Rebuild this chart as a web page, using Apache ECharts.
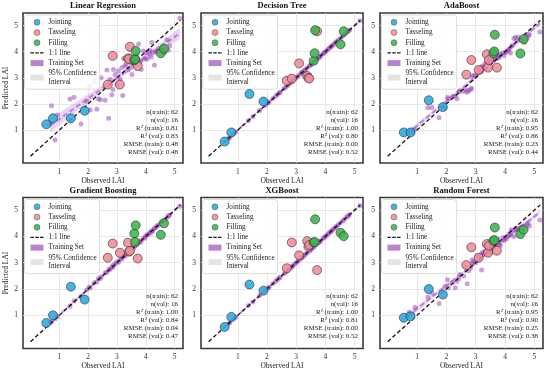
<!DOCTYPE html>
<html><head><meta charset="utf-8">
<script src="https://cdn.jsdelivr.net/npm/echarts@6/dist/echarts.min.js"></script>
<style>html,body{margin:0;padding:0;background:#fff}#c{width:550px;height:373px}</style>
</head><body><div id="c"></div>
<script>
// ---------- DATA ----------
const models = ['Linear Regression','Decision Tree','AdaBoost','Gradient Boosting','XGBoost','Random Forest'];
const tickValues = [1, 2, 3, 4, 5];

const trainObs = [0.68,0.73,0.85,0.93,1.37,1.51,1.75,1.95,2.04,2.07,2.21,2.30,2.36,2.42,2.45,2.59,2.65,2.71,2.76,2.82,2.86,2.88,2.94,3.00,3.05,3.11,3.17,3.20,3.23,3.28,3.32,3.38,3.46,3.50,3.52,3.58,3.62,3.69,3.75,3.78,3.81,3.84,3.92,3.96,4.00,4.04,4.10,4.14,4.18,4.21,4.25,4.30,4.35,4.39,4.45,4.53,4.60,4.66,4.74,4.78,4.83,5.18];
const trainPredLR = [1.26,1.93,0.62,1.58,2.19,2.26,1.23,2.10,2.68,1.77,2.87,1.80,2.20,2.16,3.00,2.14,3.30,1.45,2.94,2.35,2.55,3.32,3.13,2.74,3.26,2.94,3.39,2.32,3.74,3.45,3.52,3.30,3.84,3.55,3.13,3.58,3.48,3.90,4.29,3.60,3.65,3.32,4.03,3.75,3.95,3.71,3.99,4.05,3.80,4.35,3.98,3.48,4.00,4.03,4.10,3.99,4.15,3.98,4.46,4.05,4.23,5.28];
const trainPredDT = [0.68,0.73,0.85,0.93,1.37,1.51,1.75,1.95,2.04,2.07,2.21,2.30,2.36,2.42,2.45,2.59,2.65,2.71,2.76,2.82,2.86,2.88,2.94,3.00,3.05,3.11,3.17,3.20,3.23,3.28,3.32,3.38,3.46,3.50,3.52,3.58,3.62,3.69,3.75,3.78,3.81,3.84,3.92,3.96,4.00,4.04,4.10,4.14,4.18,4.21,4.25,4.30,4.35,4.39,4.45,4.53,4.60,4.66,4.74,4.78,4.83,5.18];
const trainPredAda = [0.92,0.95,0.98,1.02,1.85,1.86,1.47,1.85,2.25,2.20,2.28,2.30,2.20,2.45,2.50,2.48,2.55,2.45,2.50,2.55,2.60,3.05,3.10,3.10,3.35,3.20,3.40,3.25,3.45,3.40,3.55,3.60,3.62,3.70,3.60,3.65,3.70,3.80,3.75,3.85,3.80,3.90,3.95,3.85,3.97,4.00,4.05,4.10,3.95,4.20,4.25,4.50,4.55,4.40,4.55,4.45,4.50,4.35,4.50,4.60,4.65,4.75];
const trainPredGB = [0.72,0.76,0.86,0.95,1.35,1.55,1.72,1.97,2.08,2.04,2.24,2.27,2.40,2.40,2.47,2.62,2.63,2.74,2.74,2.85,2.83,2.91,2.96,3.04,3.02,3.13,3.14,3.23,3.25,3.26,3.35,3.36,3.48,3.47,3.55,3.56,3.64,3.67,3.77,3.76,3.84,3.82,3.94,3.93,4.02,4.06,4.08,4.16,4.15,4.23,4.22,4.32,4.33,4.41,4.43,4.55,4.58,4.64,4.72,4.79,4.81,5.15];
const trainPredXGB = [0.68,0.73,0.86,0.93,1.37,1.51,1.75,1.95,2.04,2.07,2.21,2.30,2.36,2.42,2.45,2.59,2.65,2.71,2.76,2.82,2.86,2.88,2.94,3.00,3.05,3.11,3.17,3.20,3.23,3.28,3.32,3.38,3.46,3.50,3.52,3.58,3.62,3.69,3.75,3.78,3.81,3.84,3.92,3.96,4.00,4.04,4.10,4.14,4.18,4.21,4.25,4.30,4.35,4.39,4.45,4.53,4.60,4.66,4.74,4.78,4.83,5.17];
const trainPredRF = [1.00,1.12,1.05,1.30,1.70,1.85,1.45,2.10,2.35,2.05,2.25,2.05,2.30,2.40,2.55,2.50,2.85,2.20,2.70,2.80,2.95,3.10,3.05,3.00,3.25,3.15,3.30,2.72,3.40,3.35,3.45,3.40,3.65,3.55,3.40,3.60,3.55,3.80,3.90,3.75,3.70,3.65,3.95,3.85,3.95,3.90,4.00,4.10,4.05,4.25,4.20,4.00,4.30,4.25,4.30,4.35,4.40,4.30,4.45,4.50,4.40,4.62];

const jointObs = [0.55,0.78,1.40,1.88];
const tassObs  = [2.68,2.85,3.10,3.38,3.42,3.45,3.72];
const fillObs  = [3.60,3.63,3.65,4.52,4.63];

const jointLR = [1.22,1.45,1.45,1.74];
const tassLR  = [2.74,3.84,2.74,3.74,3.72,4.19,3.45];
const fillLR  = [3.68,3.71,4.03,3.94,4.12];
const jointDT = [0.56,0.91,2.38,2.09];
const tassDT  = [2.89,2.97,3.55,3.07,3.00,2.97,4.78];
const fillDT  = [3.65,3.94,4.82,4.28,4.78];
const jointAda = [0.91,0.91,2.14,1.88];
const tassAda  = [3.12,3.68,3.30,3.90,3.39,3.68,3.39];
const fillAda  = [3.94,4.01,4.65,3.93,4.48];
const jointGB = [0.71,1.00,2.09,1.60];
const tassGB  = [3.19,3.73,3.38,3.76,3.42,3.45,3.16];
const fillGB  = [4.11,3.79,4.42,4.06,4.50];
const jointXGB = [0.56,0.94,2.17,1.94];
const tassXGB  = [2.79,3.77,3.28,3.82,3.61,3.68,2.72];
const fillXGB  = [3.77,3.79,4.65,4.14,4.01];
const jointRF = [0.91,0.96,2.00,1.79];
const tassRF  = [2.91,3.59,3.19,3.71,3.38,3.65,3.46];
const fillRF  = [3.84,3.86,4.34,4.09,4.26];

const nTrain = [62,62,62,62,62,62];
const nVal = [16,16,16,16,16,16];
const r2Train = ['0.81','1.00','0.95','1.00','1.00','0.95'];
const r2Val = ['0.83','0.80','0.86','0.84','0.81','0.90'];
const rmseTrain = ['0.48','0.00','0.23','0.04','0.00','0.25'];
const rmseVal = ['0.48','0.52','0.44','0.47','0.52','0.38'];

// ---------- LAYOUT / STYLE ----------
const FONT = '"Liberation Serif", "Times New Roman", serif';
const gridLefts = [23, 201, 380], gridWidths = [160, 162, 163];
const gridTops = [13, 197.5], gridHeights = [150, 151];
const X_MIN = -0.26, X_MAX = 5.29, Y_MIN = -0.26, Y_MAX = 5.48;
const COL = {joint:'#2aa9e0', tass:'#f28b97', fill:'#3cb44b', train:'rgba(150,60,180,0.62)'};
const DASH_ICON = 'path://M0,2.3h3.4v1.4h-3.4z M4.8,2.3h3.4v1.4h-3.4z M9.6,2.3h3.4v1.4h-3.4z M0,0h0.01v0.01h-0.01z M12.99,5.99h0.01v0.01h-0.01z';

const trainPreds = [trainPredLR, trainPredDT, trainPredAda, trainPredGB, trainPredXGB, trainPredRF];
const jointPreds = [jointLR, jointDT, jointAda, jointGB, jointXGB, jointRF];
const tassPreds = [tassLR, tassDT, tassAda, tassGB, tassXGB, tassRF];
const fillPreds = [fillLR, fillDT, fillAda, fillGB, fillXGB, fillRF];

function zip(a, b) { return a.map((v, i) => [v, b[i]]); }

function fitBand(xs, ys) {
  const n = xs.length;
  const xm = xs.reduce((s, v) => s + v, 0) / n;
  const ym = ys.reduce((s, v) => s + v, 0) / n;
  let sxx = 0, sxy = 0;
  for (let i = 0; i < n; i++) { sxx += (xs[i]-xm)**2; sxy += (xs[i]-xm)*(ys[i]-ym); }
  const b = sxy / sxx, a = ym - b * xm;
  let sse = 0;
  for (let i = 0; i < n; i++) sse += (ys[i] - a - b*xs[i])**2;
  const s = Math.sqrt(sse / (n - 2));
  const lo = Math.min(...xs), hi = Math.max(...xs);
  const up = [], dn = [];
  for (let k = 0; k <= 40; k++) {
    const x = lo + (hi - lo) * k / 40;
    const se = s * Math.sqrt(1/n + (x-xm)**2 / sxx);
    up.push([x, a + b*x + 2.0*se]);
    dn.push([x, a + b*x - 2.0*se]);
  }
  return {a, b, lo, hi, up, dn};
}

const grids = [], xAxes = [], yAxes = [], series = [], legends = [], graphics = [];
models.forEach((m, i) => {
  const r = Math.floor(i / 3), c = i % 3;
  const L = gridLefts[c], T = gridTops[r], W = gridWidths[c], H = gridHeights[r];
  grids.push({left: L, top: T, width: W, height: H, show: true, borderColor: '#3a3a3a', borderWidth: 1.6, backgroundColor: '#fff'});
  const axisCommon = {
    type: 'value',
    gridIndex: i,
    axisLine: {show: false},
    axisTick: {show: false, customValues: tickValues},
    axisLabel: {customValues: tickValues, fontFamily: FONT, fontSize: 7.5, color: '#333', margin: 5},
    splitLine: {show: true, lineStyle: {color: '#e2e2e2', width: 0.8}},
    nameLocation: 'middle',
    nameTextStyle: {fontFamily: FONT, fontSize: 7.5, color: '#222'}
  };
  xAxes.push(Object.assign({}, axisCommon, {min: X_MIN, max: X_MAX, name: 'Observed LAI', nameGap: 12}));
  yAxes.push(Object.assign({}, axisCommon, {min: Y_MIN, max: Y_MAX, name: c === 0 ? 'Predicted LAI' : '', nameGap: 12}));

  const tp = trainPreds[i];
  const fb = fitBand(trainObs, tp);
  const polyPts = fb.up.concat(fb.dn.slice().reverse());
  series.push({
    type: 'custom', name: '95% Confidence Interval', xAxisIndex: i, yAxisIndex: i,
    itemStyle: {color: 'rgba(175,100,205,0.28)'},
    data: [[fb.lo, fb.a + fb.b*fb.lo]],
    encode: {x: 0, y: 1},
    z: 1,
    renderItem: (params, api) => ({
      type: 'polygon',
      shape: {points: polyPts.map(p => api.coord(p))},
      style: {fill: 'rgba(175,100,205,0.28)'}
    })
  });
  series.push({
    type: 'scatter', name: 'Training Set', xAxisIndex: i, yAxisIndex: i,
    data: zip(trainObs, tp), symbolSize: 5,
    itemStyle: {color: COL.train}, z: 2
  });
  series.push({
    type: 'line', name: 'fit', xAxisIndex: i, yAxisIndex: i,
    data: [[fb.lo, fb.a + fb.b*fb.lo], [fb.hi, fb.a + fb.b*fb.hi]],
    symbol: 'none', lineStyle: {color: 'rgba(170,80,200,0.6)', width: 2.2, type: [5, 3]}, z: 3, silent: true
  });
  series.push({
    type: 'line', name: '1:1 line', xAxisIndex: i, yAxisIndex: i,
    data: [[0, 0], [5.2, 5.2]], symbol: 'none',
    itemStyle: {color: '#111'},
    lineStyle: {color: '#111', width: 1.3, type: [4, 2.5]}, z: 4
  });
  [['Jointing', jointObs, jointPreds[i], COL.joint], ['Tasseling', tassObs, tassPreds[i], COL.tass], ['Filling', fillObs, fillPreds[i], COL.fill]].forEach(([nm, ob, pr, col]) => {
    series.push({
      type: 'scatter', name: nm, xAxisIndex: i, yAxisIndex: i,
      data: zip(ob, pr), symbolSize: 9,
      itemStyle: {color: col, borderColor: '#333', borderWidth: 0.7, opacity: 0.88}, z: 5
    });
  });

  legends.push({
    left: L + 1.5, top: T + 2, orient: 'vertical',
    data: [
      {name: 'Jointing', icon: 'circle', itemStyle: {color: COL.joint, borderColor: '#444', borderWidth: 0.5}},
      {name: 'Tasseling', icon: 'circle', itemStyle: {color: COL.tass, borderColor: '#444', borderWidth: 0.5}},
      {name: 'Filling', icon: 'circle', itemStyle: {color: COL.fill, borderColor: '#444', borderWidth: 0.5}},
      {name: '1:1 line', icon: DASH_ICON, itemStyle: {color: '#111', borderWidth: 0}},
      {name: 'Training Set', icon: 'rect', itemStyle: {color: 'rgba(150,60,180,0.8)', borderWidth: 0}},
      {name: '95% Confidence Interval', icon: 'rect', itemStyle: {color: '#e4e4e4', borderWidth: 0}}
    ],
    formatter: n => n === '95% Confidence Interval' ? '95% Confidence\nInterval' : n,
    itemWidth: 13, itemHeight: 6, itemGap: 1.6,
    padding: [3, 3, 3, 6],
    backgroundColor: 'rgba(255,255,255,0.85)', borderColor: '#d2d2d2', borderWidth: 0.8, borderRadius: 3,
    selectedMode: false,
    textStyle: {fontFamily: FONT, fontSize: 7.2, color: '#222', lineHeight: 8.6}
  });

  graphics.push({
    type: 'text', x: L + W/2, y: T - 11.5, silent: true,
    style: {text: m, font: 'bold 8.5px ' + FONT, fill: '#111', textAlign: 'center', textVerticalAlign: 'top'}
  });
  graphics.push({
    type: 'text', x: L + W - 5, y: T + 95, silent: true, z: 10,
    style: {
      text: ['n(train): ' + nTrain[i], 'n(val): ' + nVal[i], 'R² (train): ' + r2Train[i], 'R² (val): ' + r2Val[i], 'RMSE (train): ' + rmseTrain[i], 'RMSE (val): ' + rmseVal[i]].join('\n'),
      font: '7px ' + FONT, fill: '#222', textAlign: 'right', textVerticalAlign: 'top', lineHeight: 8
    }
  });
});

const chart = echarts.init(document.getElementById('c'), null, {renderer: 'canvas'});
chart.setOption({
  animation: false,
  backgroundColor: '#fff',
  grid: grids, xAxis: xAxes, yAxis: yAxes,
  legend: legends, series: series,
  graphic: graphics
});
</script></body></html>
